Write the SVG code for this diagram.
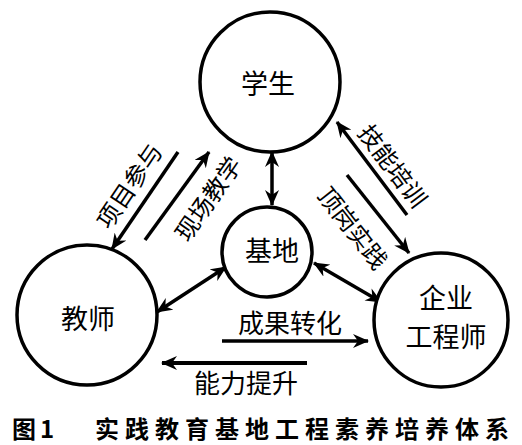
<svg xmlns="http://www.w3.org/2000/svg" width="522" height="445" viewBox="0 0 522 445">
<style>
.node{fill:#fff;stroke:#000;stroke-width:3.5}
.lbl{font-family:"Noto Sans CJK SC","Noto Sans",sans-serif;font-size:27px;fill:#000;text-anchor:middle;dominant-baseline:central}
.elbl{font-family:"Noto Sans CJK SC","Noto Sans",sans-serif;font-size:24px;fill:#000;text-anchor:middle;dominant-baseline:central}
.ln{stroke:#000;stroke-width:3.5;fill:none}
.cap{font-family:"Noto Sans CJK SC","Noto Sans",sans-serif;font-size:24px;font-weight:bold;fill:#000}
</style>
<defs>
<marker id="ah" viewBox="0 0 16 14" refX="15" refY="7" markerWidth="16" markerHeight="14" markerUnits="userSpaceOnUse" orient="auto-start-reverse">
<path d="M0,0 L16,7 L0,14 L5,7 z" fill="#000"/>
</marker>
</defs>
<rect width="522" height="445" fill="#fff"/>
<g id="connectors">
<line class="ln" x1="272" y1="152" x2="272" y2="205" marker-start="url(#ah)" marker-end="url(#ah)"/>
<line class="ln" x1="157" y1="312" x2="226" y2="267" marker-start="url(#ah)" marker-end="url(#ah)"/>
<line class="ln" x1="314" y1="263" x2="381" y2="302" marker-start="url(#ah)" marker-end="url(#ah)"/>
<line class="ln" x1="178" y1="152" x2="112" y2="249" marker-end="url(#ah)"/>
<line class="ln" x1="145" y1="240" x2="209" y2="152" marker-end="url(#ah)"/>
<line class="ln" x1="407" y1="215" x2="337" y2="122" marker-end="url(#ah)"/>
<line class="ln" x1="347" y1="175" x2="409" y2="253" marker-end="url(#ah)"/>
<line class="ln" x1="222" y1="341" x2="368" y2="341" marker-end="url(#ah)"/>
<line class="ln" x1="307" y1="363" x2="162" y2="363" marker-end="url(#ah)" style="stroke-width:4"/>
<text class="elbl" transform="translate(128,185) rotate(-56)">项目参与</text>
<text class="elbl" transform="translate(207,198) rotate(-55)">现场教学</text>
<text class="elbl" transform="translate(394,165) rotate(53)">技能培训</text>
<text class="elbl" transform="translate(354,227) rotate(52)">顶岗实践</text>
<text class="lbl" x="290" y="321" style="font-size:26px">成果转化</text>
<text class="lbl" x="246" y="381" style="font-size:26px">能力提升</text>
</g>
<g id="student">
<circle class="node" cx="270" cy="82" r="70"/>
<text class="lbl" x="268" y="82">学生</text>
</g>
<g id="base">
<circle class="node" cx="267" cy="252" r="45"/>
<text class="lbl" x="272" y="249">基地</text>
</g>
<g id="teacher">
<circle class="node" cx="87" cy="315" r="70"/>
<text class="lbl" x="88" y="317">教师</text>
</g>
<g id="engineer">
<circle class="node" cx="441" cy="320" r="67"/>
<text class="lbl" x="446" y="296">企业</text>
<text class="lbl" x="446" y="335">工程师</text>
</g>
<g id="caption">
<text class="cap" x="12" y="438">图 <tspan x="40">1</tspan></text>
<text class="cap" x="95" y="438" letter-spacing="6">实践教育基地工程素养培养体系</text>
</g>
</svg>
